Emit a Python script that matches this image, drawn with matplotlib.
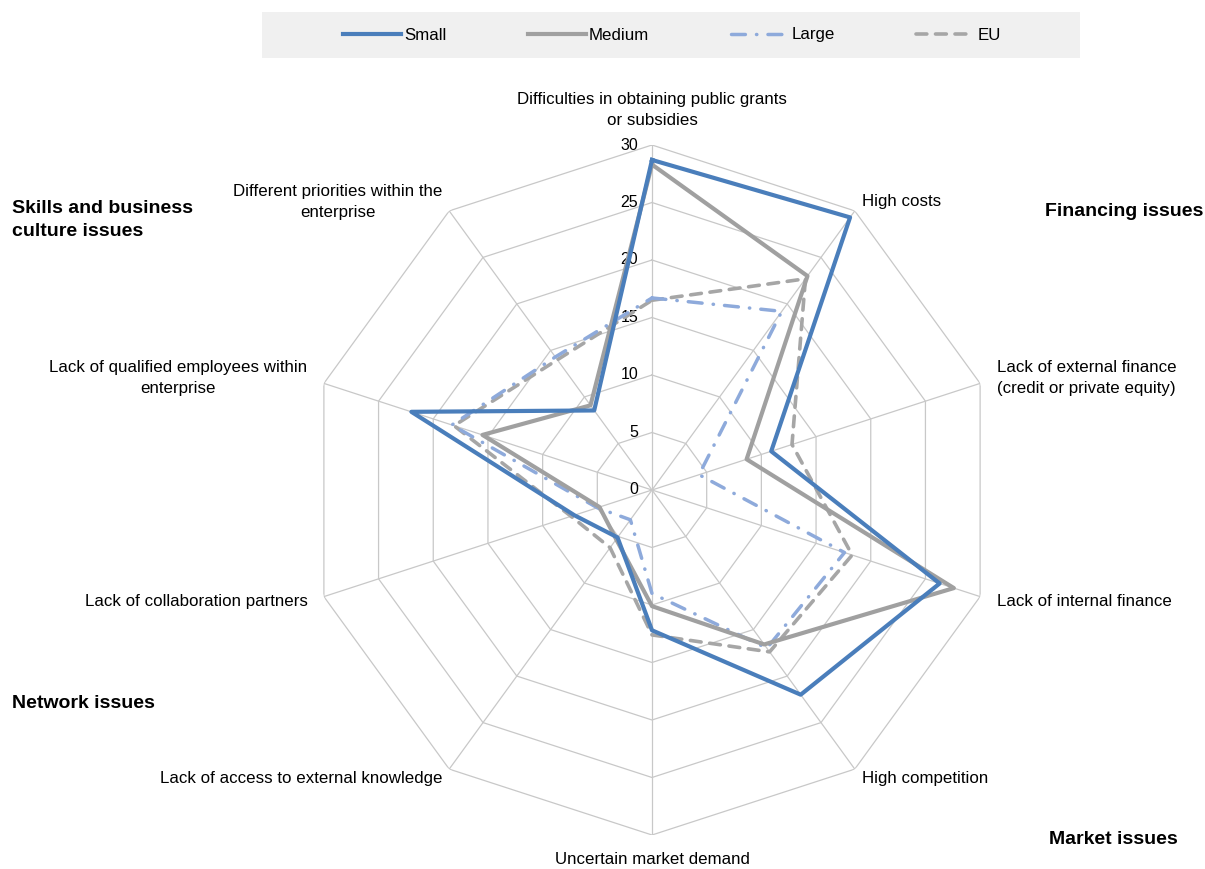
import numpy as np
import matplotlib
matplotlib.use('Agg')
import matplotlib.pyplot as plt
from matplotlib.patches import Rectangle
from matplotlib.lines import Line2D

plt.rcParams['font.family'] = ['Liberation Sans Narrow', 'Liberation Sans', 'DejaVu Sans']

categories = [
    'Difficulties in obtaining public grants\nor subsidies',
    'High costs',
    'Lack of external finance\n(credit or private equity)',
    'Lack of internal finance',
    'High competition',
    'Uncertain market demand',
    'Lack of access to external knowledge',
    'Lack of collaboration partners',
    'Lack of qualified employees within\nenterprise',
    'Different priorities within the\nenterprise',
]

small = [28.7, 29.3, 10.9, 26.3, 22.0, 12.2, 5.1, 7.1, 22.0, 8.55]
medium = [28.3, 23.0, 8.65, 27.6, 16.6, 10.1, 5.3, 4.8, 15.5, 9.1]
large = [16.7, 19.2, 4.3, 17.6, 17.0, 9.0, 3.2, 5.0, 18.3, 14.3]
eu = [16.5, 22.7, 12.8, 18.3, 17.4, 12.6, 6.2, 7.4, 18.1, 14.0]

levels = [0, 5, 10, 15, 20, 25, 30]

n = len(categories)
angles = np.arange(n) * 2 * np.pi / n
closed = np.append(angles, angles[0])

fig = plt.figure(figsize=(12.05, 8.69), dpi=100)
cx, cy, rad = 652 / 1205, 1 - 490 / 869, 345
ax = fig.add_axes([cx - rad / 1205, cy - rad / 869, 2 * rad / 1205, 2 * rad / 869],
                  projection='polar')
ax.set_theta_zero_location('N')
ax.set_theta_direction(-1)
ax.set_ylim(0, 30)
ax.set_xticks([])
ax.set_yticks([])
ax.grid(False)
ax.spines['polar'].set_visible(False)
ax.patch.set_alpha(0)

# polygon grid and spokes
grid_c = '#C8C8C8'
for lv in levels[1:]:
    ax.plot(closed, [lv] * (n + 1), color=grid_c, lw=0.9, zorder=1)
for a in angles:
    ax.plot([a, a], [0, 30], color=grid_c, lw=0.9, zorder=1)

for lv in levels:
    ax.annotate(str(lv), xy=(0, lv), xytext=(-10, 0), textcoords='offset points',
                ha='right', va='center', fontsize=11.5)

# series
eu_style = (0, (3, 2.4))
large_style = (0, (4, 3.2, 0.1, 3.2))
ax.plot(closed, eu + eu[:1], color='#A6A6A6', lw=2.6,
        linestyle=eu_style, dash_capstyle='round', zorder=3)
ax.plot(closed, large + large[:1], color='#8EAADB', lw=2.5,
        linestyle=large_style, dash_capstyle='round', zorder=4)
ax.plot(closed, medium + medium[:1], color='#A0A0A0', lw=3.0, zorder=5)
ax.plot(closed, small + small[:1], color='#4A7EBB', lw=3.0, zorder=6)

# category labels around the web
label_pos = [
    (31.5, 'center', 'bottom'),
    (31.0, 'left', 'center'),
    (31.5, 'left', 'center'),
    (31.5, 'left', 'center'),
    (31.0, 'left', 'center'),
    (31.5, 'center', 'top'),
    (31.0, 'right', 'center'),
    (31.5, 'right', 'center'),
    (31.5, 'right', 'center'),
    (31.0, 'right', 'center'),
]
for a, cat, (r, ha, va) in zip(angles, categories, label_pos):
    ma = 'left' if ha == 'left' else 'center'
    ax.text(a, r, cat, ha=ha, va=va, multialignment=ma, fontsize=12.2,
            linespacing=1.5)

# issue group headings
bold = dict(fontsize=14, fontweight='bold')
fig.text(12 / 1205, 1 - 220 / 869, 'Skills and business\nculture issues',
         ha='left', va='center', linespacing=1.4, **bold)
fig.text(1203 / 1205, 1 - 211 / 869, 'Financing issues', ha='right', va='center', **bold)
fig.text(12 / 1205, 1 - 703 / 869, 'Network issues', ha='left', va='center', **bold)
fig.text(1178 / 1205, 1 - 840 / 869, 'Market issues', ha='right', va='center', **bold)

# legend on grey band
fig.patches.append(Rectangle((262 / 1205, 1 - 58 / 869), 818 / 1205, 46 / 869,
                             transform=fig.transFigure, facecolor='#F0F0F0',
                             edgecolor='none', zorder=0))
handles = [
    Line2D([], [], color='#4A7EBB', lw=3.0),
    Line2D([], [], color='#A0A0A0', lw=3.0),
    Line2D([], [], color='#8EAADB', lw=2.5, linestyle=large_style,
           dash_capstyle='round'),
    Line2D([], [], color='#A6A6A6', lw=2.6, linestyle=eu_style,
           dash_capstyle='round'),
]
fig.legend(handles, ['Small', 'Medium', 'Large', 'EU'], loc='center',
           bbox_to_anchor=(672 / 1205, 1 - 35 / 869), ncol=4, frameon=False,
           fontsize=12.2, handlelength=3.4, handletextpad=0.2, columnspacing=4.8)

fig.savefig('out.png', dpi=100)
